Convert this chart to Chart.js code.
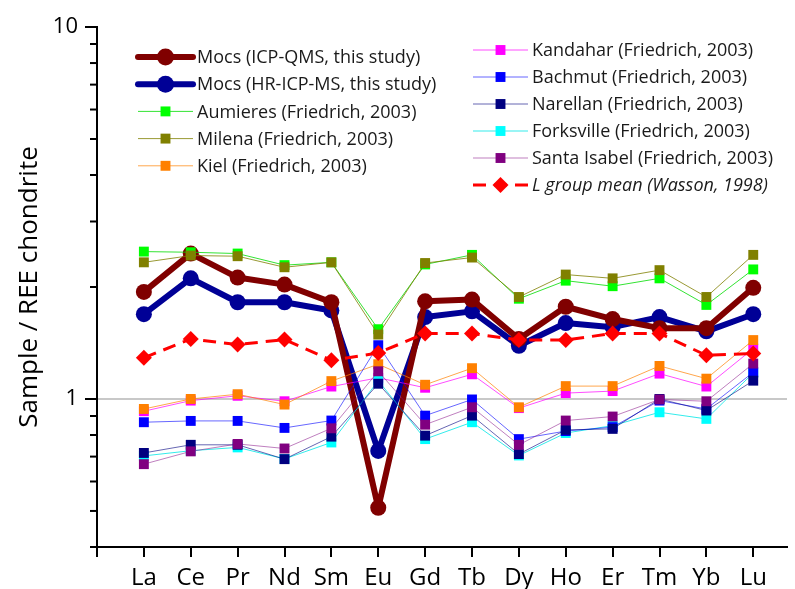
<!DOCTYPE html>
<html>
<head>
<meta charset="utf-8">
<script src="https://cdn.jsdelivr.net/npm/chart.js"></script>
<style>
  body { margin: 0; background: #fff; }
  #wrap { width: 795px; height: 589px; }
</style>
</head>
<body>
<div id="wrap"><canvas id="reeChart" width="795" height="589"></canvas></div>
<script>
// REE elements (x axis)
var elements = ['La', 'Ce', 'Pr', 'Nd', 'Sm', 'Eu', 'Gd', 'Tb', 'Dy', 'Ho', 'Er', 'Tm', 'Yb', 'Lu'];
var yTicks = [0.4, 0.5, 0.6, 0.7, 0.8, 0.9, 1, 2, 3, 4, 5, 6, 7, 8, 9, 10];
var yLabels = [1, 10];

// sample / chondrite values
var mocsIcp     = [1.94, 2.46, 2.12, 2.03, 1.82, 0.51, 1.83, 1.85, 1.45, 1.77, 1.64, 1.55, 1.55, 1.99];
var mocsHr      = [1.69, 2.11, 1.82, 1.82, 1.73, 0.725, 1.66, 1.72, 1.39, 1.60, 1.56, 1.66, 1.52, 1.69];
var aumieres    = [2.49, 2.48, 2.46, 2.29, 2.33, 1.54, 2.30, 2.44, 1.86, 2.08, 2.01, 2.11, 1.79, 2.23];
var milena      = [2.33, 2.43, 2.42, 2.26, 2.33, 1.49, 2.32, 2.40, 1.88, 2.16, 2.11, 2.22, 1.88, 2.44];
var kiel        = [0.94, 1.00, 1.03, 0.966, 1.117, 1.24, 1.092, 1.21, 0.95, 1.083, 1.083, 1.227, 1.134, 1.44];
var kandahar    = [0.927, 0.99, 1.02, 0.986, 1.08, 1.14, 1.072, 1.165, 0.945, 1.037, 1.05, 1.17, 1.08, 1.366];
var bachmut     = [0.866, 0.873, 0.873, 0.836, 0.875, 1.395, 0.902, 0.997, 0.78, 0.82, 0.84, 0.99, 0.94, 1.18];
var narellan    = [0.716, 0.753, 0.753, 0.689, 0.792, 1.099, 0.797, 0.902, 0.711, 0.826, 0.831, 1.0, 0.931, 1.12];
var forksville  = [0.703, 0.726, 0.741, 0.69, 0.764, 1.12, 0.78, 0.866, 0.705, 0.81, 0.848, 0.921, 0.884, 1.175];
var santaIsabel = [0.668, 0.723, 0.757, 0.736, 0.834, 1.187, 0.853, 0.95, 0.753, 0.875, 0.897, 0.997, 0.986, 1.245];
var lGroupMean  = [1.29, 1.45, 1.40, 1.445, 1.27, 1.33, 1.50, 1.50, 1.44, 1.44, 1.50, 1.50, 1.31, 1.325];

function points(values) {
    return values.map(function(v, i) { return { x: i, y: v }; });
}

function thin(label, values, color, lineColor, order) {
    return {
        label: label,
        data: points(values),
        borderColor: lineColor,
        backgroundColor: color,
        pointBackgroundColor: color,
        pointBorderColor: color,
        borderWidth: 1,
        pointStyle: 'rect',
        pointRadius: 7,
        pointBorderWidth: 0,
        order: order,
    };
}

function thick(label, values, color, order) {
    return {
        label: label,
        data: points(values),
        borderColor: color,
        backgroundColor: color,
        borderWidth: 6,
        borderJoinStyle: 'round',
        borderCapStyle: 'round',
        pointStyle: 'circle',
        pointRadius: 8,
        pointBorderWidth: 0,
        order: order,
    };
}

var datasets = [
    thick('Mocs (ICP-QMS, this study)', mocsIcp, '#800000', 10),
    thick('Mocs (HR-ICP-MS, this study)', mocsHr, '#000096', 11),
    thin('Aumieres (Friedrich, 2003)', aumieres, '#00ff00', 'rgba(0,220,0,0.8)', 9),
    thin('Milena (Friedrich, 2003)', milena, '#808000', 'rgba(128,128,0,0.8)', 8),
    thin('Kiel (Friedrich, 2003)', kiel, '#ff8000', 'rgba(255,128,0,0.7)', 6),
    thin('Kandahar (Friedrich, 2003)', kandahar, '#ff00ff', 'rgba(255,0,255,0.7)', 7),
    thin('Bachmut (Friedrich, 2003)', bachmut, '#0000ff', 'rgba(0,0,255,0.6)', 4),
    thin('Narellan (Friedrich, 2003)', narellan, '#000080', 'rgba(0,0,128,0.6)', 3),
    thin('Forksville (Friedrich, 2003)', forksville, '#00ffff', 'rgba(0,230,230,0.8)', 5),
    thin('Santa Isabel (Friedrich, 2003)', santaIsabel, '#800080', 'rgba(128,0,128,0.5)', 2),
    {
        label: 'L group mean (Wasson, 1998)',
        data: points(lGroupMean),
        borderColor: '#ff0000',
        backgroundColor: '#ff0000',
        borderWidth: 3,
        borderDash: [13, 8],
        pointStyle: 'rectRot',
        pointRadius: 8,
        pointBorderWidth: 0,
        order: 1,
    },
];

// two column legend with line + marker samples
var sideLegend = {
    id: 'sideLegend',
    afterDraw: function(chart) {
        var ctx = chart.ctx;
        chart.data.datasets.forEach(function(ds, i) {
            var col = i < 5 ? 0 : 1;
            var row = col === 0 ? i : i - 5;
            var x0 = col === 0 ? 138 : 473;
            var y = col === 0 ? 57 + row * 27.2 : 50 + row * 27;
            ctx.save();
            ctx.strokeStyle = ds.borderColor;
            ctx.lineWidth = ds.borderWidth;
            ctx.lineCap = ds.borderWidth > 3 ? 'round' : 'butt';
            ctx.setLineDash(ds.borderDash || []);
            ctx.beginPath();
            ctx.moveTo(x0, y);
            ctx.lineTo(x0 + 55, y);
            ctx.stroke();
            ctx.setLineDash([]);
            ctx.fillStyle = ds.backgroundColor;
            ctx.strokeStyle = ds.backgroundColor;
            Chart.helpers.drawPoint(ctx, {
                pointStyle: ds.pointStyle,
                radius: ds.pointStyle === 'circle' ? 8.5 : ds.pointRadius,
                rotation: 0,
                borderWidth: 0,
            }, x0 + 27.5, y);
            ctx.fillStyle = '#1a1a1a';
            ctx.font = (i === 10 ? 'italic ' : '') + '18px "Open Sans"';
            ctx.textBaseline = 'middle';
            ctx.textAlign = 'left';
            ctx.fillText(ds.label, x0 + 59, y + 1);
            ctx.restore();
        });
    }
};

// shorter minor ticks on the log axis
var minorTicks = {
    id: 'minorTicks',
    afterDraw: function(chart) {
        var y = chart.scales.y;
        var ctx = chart.ctx;
        ctx.save();
        ctx.strokeStyle = '#000';
        ctx.lineWidth = 2;
        yTicks.forEach(function(v) {
            if (yLabels.indexOf(v) >= 0) return;
            var py = y.getPixelForValue(v);
            ctx.beginPath();
            ctx.moveTo(y.right - 7, py);
            ctx.lineTo(y.right, py);
            ctx.stroke();
        });
        ctx.restore();
    }
};

var myChart = new Chart(document.getElementById('reeChart').getContext('2d'), {
    type: 'line',
    data: { datasets: datasets },
    plugins: [sideLegend, minorTicks],
    options: {
        responsive: false,
        animation: false,
        layout: { padding: { top: 27, right: 0, bottom: 0, left: 0 } },
        plugins: {
            legend: { display: false },
            tooltip: { enabled: false },
        },
        scales: {
            x: {
                type: 'linear',
                min: -1,
                max: 13.72,
                afterBuildTicks: function(scale) {
                    var t = [{ value: -1 }];
                    elements.forEach(function(e, i) { t.push({ value: i }); });
                    scale.ticks = t;
                },
                afterFit: function(scale) { scale.height = 42; },
                border: { color: '#000', width: 2 },
                grid: {
                    drawOnChartArea: false,
                    tickLength: 10,
                    tickColor: '#000',
                    lineWidth: 2,
                },
                ticks: {
                    autoSkip: false,
                    maxRotation: 0,
                    padding: 7,
                    color: '#000',
                    font: { family: 'Open Sans', size: 24 },
                    callback: function(value) {
                        return elements[value] !== undefined ? elements[value] : '';
                    },
                },
            },
            y: {
                type: 'logarithmic',
                min: 0.4,
                max: 10,
                afterBuildTicks: function(scale) {
                    scale.ticks = yTicks.map(function(v) { return { value: v }; });
                },
                afterFit: function(scale) { scale.width = 97; },
                border: { color: '#000', width: 2 },
                grid: {
                    color: function(c) { return c.tick && c.tick.value === 1 ? '#c8c8c8' : 'rgba(0,0,0,0)'; },
                    lineWidth: 2,
                    tickColor: function(c) { return c.tick && yLabels.indexOf(c.tick.value) >= 0 ? '#000' : 'rgba(0,0,0,0)'; },
                    tickLength: 12,
                },
                ticks: {
                    autoSkip: false,
                    padding: 7,
                    color: '#000',
                    font: { family: 'Open Sans', size: 22 },
                    callback: function(value) {
                        return yLabels.indexOf(value) >= 0 ? String(value) : '';
                    },
                },
                title: {
                    display: true,
                    text: 'Sample / REE chondrite',
                    color: '#000',
                    font: { family: 'Open Sans', size: 26 },
                    padding: { top: 14, bottom: 0 },
                },
            },
        },
    },
});
</script>
</body>
</html>
